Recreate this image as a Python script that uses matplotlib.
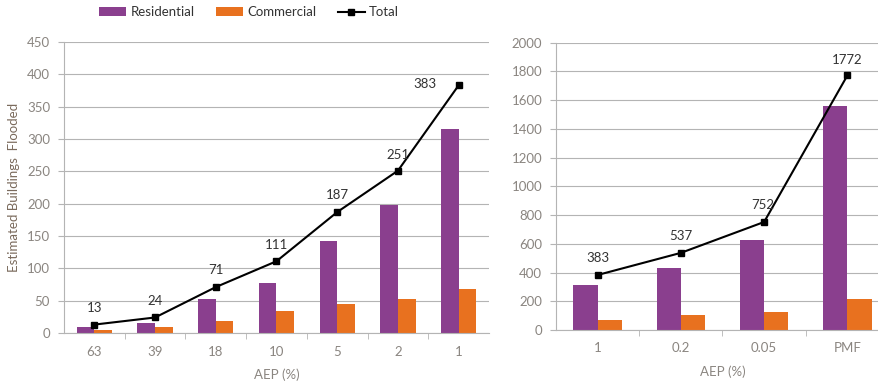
import matplotlib
matplotlib.use("Agg")
import matplotlib.pyplot as plt
import numpy as np

plt.rcParams['font.family'] = ['Lato', 'DejaVu Sans']

# data
aep_left        = ['63', '39', '18', '10', '5', '2', '1']
resid_left      = [9, 15, 53, 77, 142, 198, 315]
comm_left       = [4, 9, 18, 34, 45, 53, 68]
total_left      = [13, 24, 71, 111, 187, 251, 383]

aep_right       = ['1', '0.2', '0.05', 'PMF']
resid_right     = [313, 433, 630, 1558]
comm_right      = [70, 104, 122, 214]
total_right     = [383, 537, 752, 1772]

purple  = '#8a3f8e'
orange  = '#e8711f'
grid_c  = '#b4b4b4'
tick_c  = '#8a8580'
lab_c   = '#333333'

fig = plt.figure(figsize=(8.79, 3.86), dpi=100)
axL = fig.add_axes([64/879, 53/386, 425/879, 291/386])
axR = fig.add_axes([556/879, 56/386, 333/879, 287.3/386])


def draw(ax, cats, res, com, tot, ymax, ystep, offsets):
    x = np.arange(len(cats))
    w = 0.29
    ax.bar(x - w/2, res, w, color=purple, label='Residential', zorder=2)
    ax.bar(x + w/2, com, w, color=orange, label='Commercial', zorder=2)
    ax.plot(x, tot, color='black', lw=1.5, marker='s', ms=5, label='Total', zorder=3)
    for xi, v, off in zip(x, tot, offsets):
        ax.annotate(str(v), (xi, v), xytext=off, textcoords='offset points',
                    ha='center', va='center', fontsize=9.5, color=lab_c, zorder=4)
    ax.set_xlim(-0.5, len(cats) - 0.5)
    ax.set_ylim(0, ymax)
    ax.set_yticks(np.arange(0, ymax + 1, ystep))
    ax.yaxis.grid(True, color=grid_c, lw=0.8, zorder=0)
    ax.set_axisbelow(True)
    ax.set_xticks(x)
    ax.set_xticklabels(cats)
    ax.set_xticks(np.arange(0.5, len(cats) - 0.5, 1), minor=True)
    ax.tick_params(axis='x', which='major', length=0, pad=9, labelsize=9.5, labelcolor=tick_c)
    ax.tick_params(axis='x', which='minor', length=4, color=grid_c, direction='out')
    ax.tick_params(axis='y', length=4, color=grid_c, pad=6, labelsize=9.5, labelcolor=tick_c)
    for s in ['top', 'right']:
        ax.spines[s].set_visible(False)
    for s in ['left', 'bottom']:
        ax.spines[s].set_color(grid_c)
        ax.spines[s].set_linewidth(0.8)
    ax.set_xlabel('AEP (%)', fontsize=9.5, color=tick_c, labelpad=8)


draw(axL, aep_left, resid_left, comm_left, total_left, 450, 50,
     [(0, 12), (0, 12), (0, 12), (0, 12), (0, 12), (0, 11), (-24, 1)])
draw(axR, aep_right, resid_right, comm_right, total_right, 2000, 200,
     [(0, 12), (0, 12), (-1, 12), (0, 11)])

axL.set_ylabel('Estimated Buildings  Flooded', fontsize=9.5, color='#7a6a5c', labelpad=5)

h, l = axL.get_legend_handles_labels()
fig.legend([h[1], h[2], h[0]], ['Residential', 'Commercial', 'Total'],
           loc='center', bbox_to_anchor=(249/879, 1 - 12/386), ncol=3, frameon=False,
           fontsize=9.5, handlelength=2.1, handleheight=0.6, columnspacing=1.6,
           handletextpad=0.3, labelcolor=lab_c)

fig.savefig('out.png', dpi=100)
